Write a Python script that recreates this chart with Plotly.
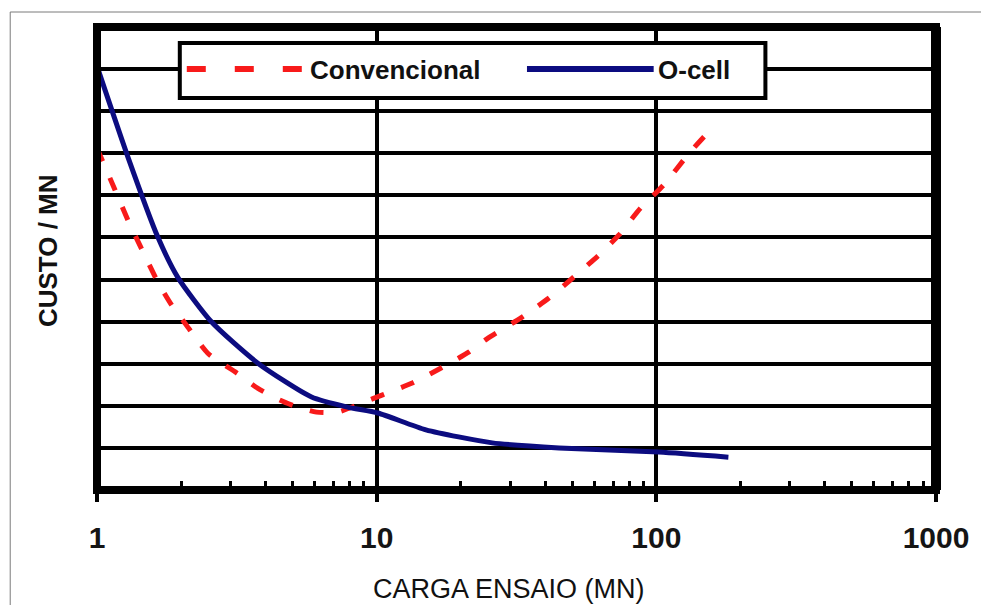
import plotly.graph_objects as go

# Custo por MN em função da carga de ensaio (escala log em x)
conv_x = [1.0, 1.16, 1.29, 1.48, 1.65, 1.85, 2.06, 2.49, 3.16, 3.75, 4.5, 5.21, 6.09,
          7.24, 9.04, 10.5, 13.4, 17.0, 21.4, 24.8, 32.8, 41.3, 50.7, 62.3, 73.5, 87.9,
          106, 131, 163]
conv_y = [8.12, 7.13, 6.41, 5.58, 4.94, 4.39, 3.97, 3.25, 2.78, 2.42, 2.14, 1.97, 1.85,
          1.85, 2.09, 2.26, 2.54, 2.90, 3.28, 3.59, 4.09, 4.56, 5.06, 5.58, 6.06, 6.70,
          7.24, 8.00, 8.69]

ocell_x = [1.0, 1.29, 1.65, 1.95, 2.57, 3.75, 5.85, 7.86, 10.1, 15.0, 25.9, 44.9, 102, 181]
ocell_y = [10.07, 7.91, 6.01, 5.04, 3.99, 3.02, 2.21, 1.97, 1.83, 1.43, 1.12, 1.00, 0.90, 0.78]

series_names = ["Convencional", "O-cell"]
x_tick_vals = [1, 10, 100, 1000]
x_tick_text = ["1", "10", "100", "1000"]
x_minor_vals = [2, 3, 4, 5, 6, 7, 8, 9,
                20, 30, 40, 50, 60, 70, 80, 90,
                200, 300, 400, 500, 600, 700, 800, 900]
x_title = "CARGA ENSAIO (MN)"
y_title = "CUSTO / MN"

W, H = 981, 605
L, R, T, B = 97, 938, 27, 490  # plot area edges in pixels


def fx(px):
    return (px - L) / (R - L)


def fy(py):
    return (B - py) / (B - T)


RED = "#f81a1a"
NAVY = "#0c0c80"
FONT = "Liberation Sans, Arial, sans-serif"

fig = go.Figure()
fig.add_trace(go.Scatter(
    x=conv_x, y=conv_y, mode="lines", name=series_names[0],
    line=dict(color=RED, width=5, dash="14px,18px", shape="spline", smoothing=0.6),
))
fig.add_trace(go.Scatter(
    x=ocell_x, y=ocell_y, mode="lines", name=series_names[1],
    line=dict(color=NAVY, width=5, shape="spline", smoothing=0.6),
))

fig.update_layout(
    width=W, height=H,
    margin=dict(l=L, r=W - R, t=T, b=H - B, pad=0),
    paper_bgcolor="white", plot_bgcolor="white",
    showlegend=False,
    xaxis=dict(
        type="log", range=[0, 3],
        tickmode="array", tickvals=x_tick_vals, ticktext=x_tick_text,
        ticks="outside", ticklen=11, tickwidth=4, tickcolor="black",
        ticklabelstandoff=10,
        showgrid=True, gridcolor="black", gridwidth=4,
        showline=False, zeroline=False,
        tickfont=dict(family=FONT, size=30, color="#151515", weight="bold"),
        minor=dict(tickmode="array", tickvals=x_minor_vals, ticks="inside",
                   ticklen=9, tickwidth=3, tickcolor="black", showgrid=False),
    ),
    yaxis=dict(
        range=[0, 11], tickmode="linear", tick0=0, dtick=1,
        showticklabels=False, ticks="",
        showgrid=True, gridcolor="black", gridwidth=4,
        zeroline=False, showline=False,
    ),
)

shapes = [
    # frame of the plot area
    dict(type="rect", xref="paper", yref="paper", x0=0, x1=1, y0=0, y1=1,
         line=dict(color="black", width=8), layer="above"),
    dict(type="line", xref="paper", yref="paper", x0=1, x1=1, y0=0, y1=1,
         line=dict(color="black", width=10), layer="above"),
    # legend box and samples
    dict(type="rect", xref="paper", yref="paper",
         x0=fx(180), x1=fx(767), y0=fy(98), y1=fy(43),
         fillcolor="white", line=dict(color="black", width=4), layer="above"),
    dict(type="line", xref="paper", yref="paper",
         x0=fx(187), x1=fx(304), y0=fy(69), y1=fy(69),
         line=dict(color=RED, width=6, dash="19px,29px"), layer="above"),
    dict(type="line", xref="paper", yref="paper",
         x0=fx(528), x1=fx(655), y0=fy(69), y1=fy(69),
         line=dict(color=NAVY, width=6), layer="above"),
    # outer page frame
    dict(type="line", xref="paper", yref="paper",
         x0=fx(10), x1=fx(10), y0=fy(12), y1=fy(620),
         line=dict(color="#7a7a7a", width=1), layer="above"),
    dict(type="line", xref="paper", yref="paper",
         x0=fx(10), x1=fx(990), y0=fy(12), y1=fy(12),
         line=dict(color="#7a7a7a", width=1), layer="above"),
]
fig.update_layout(shapes=shapes)

annotations = [
    dict(text=series_names[0], x=fx(309), y=fy(70), xanchor="left", yanchor="middle",
         font=dict(family=FONT, size=26, color="#111", weight="bold")),
    dict(text=series_names[1], x=fx(657), y=fy(70), xanchor="left", yanchor="middle",
         font=dict(family=FONT, size=26, color="#111", weight="bold")),
    dict(text=x_title, x=fx(510), y=fy(589), xanchor="center", yanchor="middle",
         font=dict(family=FONT, size=27, color="#111")),
    dict(text=y_title, x=fx(48), y=fy(251), xanchor="center", yanchor="middle",
         textangle=-90, font=dict(family=FONT, size=26, color="#111", weight="bold")),
]
for a in annotations:
    a.update(xref="paper", yref="paper", showarrow=False)
fig.update_layout(annotations=annotations)

fig.write_html("out.html")
